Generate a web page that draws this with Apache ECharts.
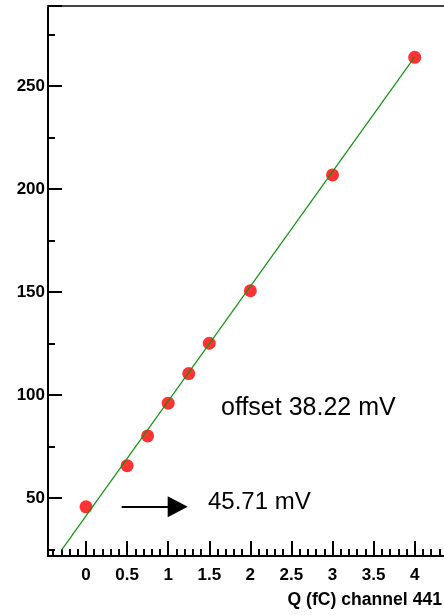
<!DOCTYPE html>
<html><head><meta charset="utf-8">
<script src="https://cdn.jsdelivr.net/npm/echarts@6/dist/echarts.min.js"></script>
<style>html,body{margin:0;padding:0;background:#fff}#c{width:444px;height:615px}</style>
</head><body><div id="c"></div>
<script>
// ---- data ----
const chargeFC = [0, 0.5, 0.75, 1, 1.25, 1.5, 2, 3, 4];
const amplitudeMV = [45.71, 65.7, 80.1, 96.0, 110.4, 125.1, 150.6, 206.8, 263.9];
const fitX = [-0.296, 4];
const fitY = [24.8, 264.1];
const xRange = [-0.4625, 4.6];
const yRange = [21.84, 288.8];
const offsetText = 'offset 38.22 mV';
const pointerText = '45.71 mV';
const arrowFrom = [0.434, 45.71];
const arrowTo = [1.116, 45.71];
const axisTitle = 'Q (fC) channel 441';

const FONT = '"Liberation Sans", Arial, Helvetica, sans-serif';
const chart = echarts.init(document.getElementById('c'), null, {renderer: 'canvas'});

chart.setOption({
  animation: false,
  backgroundColor: '#ffffff',
  grid: {left: 48, top: 6, width: 416, height: 550, containLabel: false, outerBoundsMode: 'none'},
  xAxis: [{
    type: 'value', min: xRange[0], max: xRange[1], splitNumber: 10,
    axisLine: {show: true, onZero: false, lineStyle: {color: '#000', width: 2}},
    axisTick: {show: true, inside: true, length: 15, lineStyle: {color: '#000', width: 2}},
    minorTick: {show: true, splitNumber: 5, length: 7, lineStyle: {color: '#000', width: 2}},
    splitLine: {show: false},
    axisLabel: {show: true, margin: 11, showMinLabel: false, showMaxLabel: false, hideOverlap: false,
      fontFamily: FONT, fontWeight: 'bold', fontSize: 17, color: '#000'}
  }, {
    type: 'value', position: 'top', min: xRange[0], max: xRange[1],
    axisLine: {show: true, onZero: false, lineStyle: {color: '#444', width: 2}},
    axisTick: {show: false}, axisLabel: {show: false}, splitLine: {show: false}
  }],
  yAxis: {
    type: 'value', min: yRange[0], max: yRange[1], splitNumber: 5,
    axisLine: {show: true, onZero: false, lineStyle: {color: '#000', width: 2}},
    axisTick: {show: true, inside: true, length: 14, lineStyle: {color: '#000', width: 2}},
    minorTick: {show: true, splitNumber: 2, length: 7, lineStyle: {color: '#000', width: 2}},
    splitLine: {show: false},
    axisLabel: {show: true, margin: 3, showMinLabel: false, showMaxLabel: false,
      fontFamily: FONT, fontWeight: 'bold', fontSize: 17, color: '#000'}
  },
  series: [{
    type: 'scatter', z: 2,
    data: chargeFC.map((x, i) => [x, amplitudeMV[i]]),
    symbol: 'circle', symbolSize: 13,
    itemStyle: {color: '#ff0000'},
    markLine: {
      silent: true, symbol: ['none', 'triangle'], symbolSize: [21, 20],
      label: {show: false},
      lineStyle: {color: '#000', width: 2, type: 'solid'},
      data: [[{coord: arrowFrom}, {coord: arrowTo}]]
    }
  }, {
    type: 'line', z: 3,
    data: fitX.map((x, i) => [x, fitY[i]]),
    showSymbol: false, symbol: 'none',
    lineStyle: {color: '#119211', width: 1.2}
  }],
  graphic: [
    {type: 'text', x: 221, y: 408, style: {text: offsetText, font: '25px ' + FONT, fill: '#000', align: 'left', verticalAlign: 'middle'}},
    {type: 'text', x: 208, y: 502, style: {text: pointerText, font: '24px ' + FONT, fill: '#000', align: 'left', verticalAlign: 'middle'}},
    {type: 'text', x: 442, y: 600, style: {text: axisTitle, font: 'bold 17.6px ' + FONT, fill: '#000', align: 'right', verticalAlign: 'middle'}}
  ]
});
</script>
</body></html>
